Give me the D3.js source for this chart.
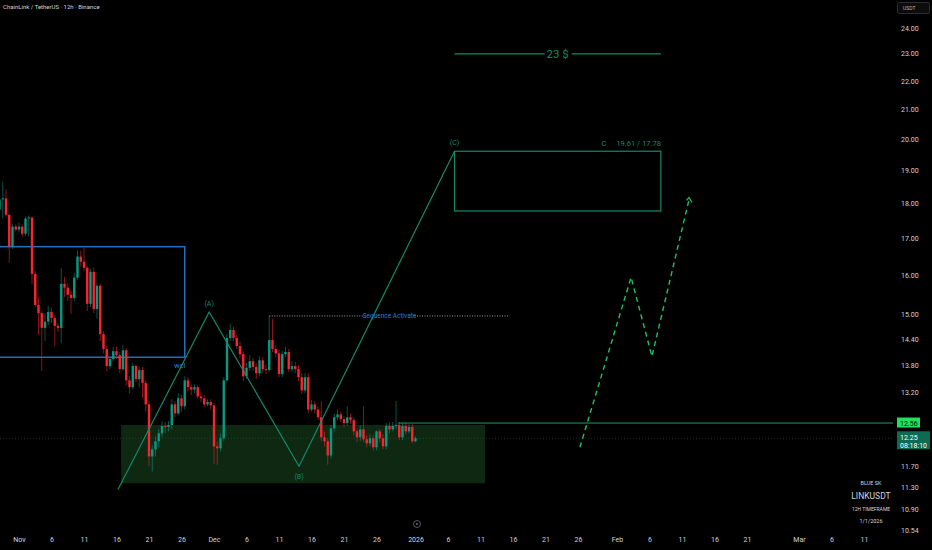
<!DOCTYPE html>
<html><head><meta charset="utf-8">
<script src="https://cdn.jsdelivr.net/npm/d3@7"></script>
<style>html,body{margin:0;background:#000;}svg{display:block;}text{font-family:Roboto,"Noto Sans",sans-serif;}</style>
</head><body><svg id="c" width="932" height="550"></svg>
<script>
// ---- DATA ----
const firstCandle = "2025-10-29T00:00:00Z"; // 12h candles
const candleHours = 12;
const opens = [17.82,18.12,18.15,17.67,16.77,17.33,17.25,17.33,17.13,17.56,
17.59,16.04,15.24,15.04,14.68,14.83,15.07,14.92,14.73,14.68,
15.78,15.68,15.50,15.42,15.94,16.50,16.36,16.20,15.27,16.09,
15.14,15.73,14.53,14.18,13.79,13.95,14.13,14.04,13.72,14.15,
13.47,13.32,13.79,13.50,13.70,13.41,12.95,11.89,12.03,12.19,
12.35,12.50,12.48,12.52,12.95,12.76,13.08,12.91,13.47,13.32,
13.27,13.32,13.12,13.08,12.95,13.00,12.93,12.09,12.05,12.25,
13.47,14.44,14.63,14.44,14.25,14.06,13.56,13.75,13.90,13.77,
13.63,13.92,13.72,13.70,14.39,14.18,14.08,13.61,14.06,14.11,
13.72,13.79,13.72,13.54,13.25,13.54,12.84,12.95,12.84,12.68,
12.27,12.19,11.91,12.45,12.68,12.74,12.64,12.56,12.68,12.62,
12.39,12.27,12.43,12.23,12.15,12.25,12.07,12.39,12.25,12.09,
12.50,12.43,12.50,12.52,12.27,12.50,12.39,12.48,12.19];
const closes = [18.12,18.15,17.67,16.77,17.33,17.25,17.33,17.13,17.56,17.59,
16.04,15.24,15.04,14.68,14.83,15.07,14.92,14.73,14.68,15.78,
15.68,15.50,15.42,15.94,16.50,16.36,16.20,15.27,16.09,15.14,
15.73,14.53,14.18,13.79,13.95,14.13,14.04,13.72,14.15,13.47,
13.32,13.79,13.50,13.70,13.41,12.95,11.89,12.03,12.19,12.35,
12.50,12.48,12.52,12.95,12.76,13.08,12.91,13.47,13.32,13.27,
13.32,13.12,13.08,12.95,13.00,12.93,12.09,12.05,12.25,13.47,
14.44,14.63,14.44,14.25,14.06,13.56,13.75,13.90,13.77,13.63,
13.92,13.72,13.70,14.39,14.18,14.08,13.61,14.06,14.11,13.72,
13.79,13.72,13.54,13.25,13.54,12.84,12.95,12.84,12.68,12.27,
12.19,11.91,12.45,12.68,12.74,12.64,12.56,12.68,12.62,12.39,
12.27,12.43,12.23,12.15,12.25,12.07,12.39,12.25,12.09,12.50,
12.43,12.50,12.52,12.27,12.50,12.39,12.48,12.19,12.25];
const highs = [18.39,18.66,18.42,17.67,17.39,17.39,17.44,17.39,17.62,17.65,
17.62,16.12,15.44,15.09,15.04,15.22,15.17,14.99,14.80,16.20,
15.96,15.81,15.60,16.07,16.66,16.66,16.74,16.25,16.17,16.20,
15.81,15.78,14.60,14.25,14.01,14.23,14.23,14.11,14.27,14.20,
13.56,13.86,13.83,13.77,13.77,13.47,13.02,12.11,12.29,12.43,
12.60,12.58,12.60,13.06,13.02,13.19,13.15,13.56,13.54,13.38,
13.38,13.36,13.21,13.15,13.06,13.06,12.98,12.19,12.35,13.54,
14.53,14.78,14.70,14.51,14.35,14.13,13.86,14.04,13.97,13.86,
14.01,13.99,13.83,14.97,14.90,14.27,14.15,14.13,14.23,14.18,
13.90,13.88,13.81,13.63,13.63,13.63,13.04,13.02,12.91,13.02,
12.39,12.25,12.52,12.76,12.84,12.80,12.70,12.91,12.76,12.68,
12.43,12.52,12.91,12.31,12.33,12.31,12.41,12.43,12.33,12.56,
12.58,12.58,13.02,12.58,12.56,12.56,12.54,12.54,12.29];
const lows = [17.73,17.56,17.62,16.34,16.71,17.19,17.16,17.05,17.07,17.05,
15.78,15.19,14.51,13.68,14.37,14.75,14.80,14.25,14.58,14.32,
15.44,15.34,15.02,15.34,15.89,16.23,16.12,15.09,15.19,15.04,
14.90,14.37,14.08,13.68,13.72,13.90,13.95,13.63,13.68,13.36,
13.19,13.27,13.43,13.32,13.08,12.80,11.70,11.60,11.89,12.07,
12.27,12.35,12.39,12.43,12.68,12.72,12.80,12.84,13.23,13.15,
13.19,13.06,13.00,12.89,12.91,12.84,11.75,11.73,11.99,12.19,
13.43,14.37,14.37,14.18,13.97,13.45,13.50,13.68,13.68,13.50,
13.56,13.63,13.61,13.66,14.11,13.99,13.54,13.54,13.99,13.66,
13.66,13.63,13.45,13.17,13.19,12.76,12.80,12.76,12.62,12.19,
12.09,11.73,11.85,12.39,12.62,12.58,12.47,12.50,12.54,12.31,
12.17,12.19,12.17,12.07,12.09,12.01,12.01,12.17,12.03,12.03,
12.35,12.39,12.43,12.21,12.21,12.33,12.35,12.15,12.17];

const xTickDates = ["2025-11-01","2025-11-06","2025-11-11","2025-11-16","2025-11-21","2025-11-26",
"2025-12-01","2025-12-06","2025-12-11","2025-12-16","2025-12-21","2025-12-26",
"2026-01-01","2026-01-06","2026-01-11","2026-01-16","2026-01-21","2026-01-26",
"2026-02-01","2026-02-06","2026-02-11","2026-02-16","2026-02-21",
"2026-03-01","2026-03-06","2026-03-11"];
const xTickLabels = ["Nov","6","11","16","21","26","Dec","6","11","16","21","26",
"2026","6","11","16","21","26","Feb","6","11","16","21","Mar","6","11"];
const yTicks = [24,23,22,21,20,19,18,17,16,15,14.40,13.80,13.20,11.70,11.30,10.90,10.54];

// annotations (time, price)
const blueBoxTimes = ["2025-10-20T00:00:00Z","2025-11-26T12:00:00Z"];
const blueBoxPrices = [16.77, 13.99];
const zoneTimes = ["2025-11-16T17:00:00Z","2026-01-11T17:00:00Z"];
const zonePrices = [12.52, 11.38];
const waveTimes = ["2025-11-16T05:00:00Z","2025-11-30T06:00:00Z","2025-12-14T02:00:00Z","2026-01-07T00:00:00Z"];
const wavePrices = [11.26, 15.07, 11.70, 19.61];
const waveLabels = ["", "(A)", "(B)", "(C)"];
const targetBoxTimes = ["2026-01-07T00:00:00Z","2026-02-07T18:00:00Z"];
const targetBoxPrices = [19.61, 17.78];
const targetLine = 23;
const projTimes = ["2026-01-26T07:00:00Z","2026-02-03T04:00:00Z","2026-02-06T09:00:00Z","2026-02-12T02:00:00Z"];
const projPrices = [12.07, 15.95, 14.01, 18.12];
const seqTimes = ["2025-12-09T12:00:00Z","2026-01-15T12:00:00Z"];
const seqPrice = 14.97;
const levelStart = "2025-12-29T08:00:00Z";
const levelPrice = 12.56;
const lastPrice = 12.25;
const countdown = "08:18:10";

// ---- CHART ----
const W=932,H=550, plotRight=893;
const svg=d3.select("#c");
svg.append("rect").attr("width",W).attr("height",H).attr("fill","#000");
const defs=svg.append("defs");
defs.append("clipPath").attr("id","clip").append("rect").attr("x",0).attr("y",0).attr("width",plotRight).attr("height",H);

const x=d3.scaleUtc().domain([new Date("2025-11-01T00:00:00Z"),new Date("2026-03-01T00:00:00Z")]).range([19,799]);
const y=d3.scaleLog().domain([10.54,24]).range([530,28]);
const T=s=>new Date(s);

const g=svg.append("g").attr("clip-path","url(#clip)");

// demand zone
g.append("rect").attr("x",x(T(zoneTimes[0]))).attr("y",y(zonePrices[0]))
 .attr("width",x(T(zoneTimes[1]))-x(T(zoneTimes[0]))).attr("height",y(zonePrices[1])-y(zonePrices[0]))
 .attr("fill","#0e2811");

// last price dotted line
g.append("line").attr("x1",0).attr("x2",plotRight).attr("y1",y(lastPrice)).attr("y2",y(lastPrice))
 .attr("stroke","#0e6e55").attr("stroke-opacity",0.5).attr("stroke-width",1).attr("stroke-dasharray","1,2");

// blue box
g.append("rect").attr("x",x(T(blueBoxTimes[0]))).attr("y",y(blueBoxPrices[0]))
 .attr("width",x(T(blueBoxTimes[1]))-x(T(blueBoxTimes[0]))).attr("height",y(blueBoxPrices[1])-y(blueBoxPrices[0]))
 .attr("fill","none").attr("stroke","#1f6fc4").attr("stroke-width",1.5);
g.append("text").attr("x",x(T(blueBoxTimes[1]))-5).attr("y",y(blueBoxPrices[1])+10.5).attr("text-anchor","middle")
 .attr("fill","#2a7fd4").attr("font-size",7.5).text("wcl");

// candles
const t0=new Date(firstCandle).getTime();
const candles=closes.map((c,i)=>({t:new Date(t0+i*candleHours*3600e3),o:opens[i],h:highs[i],l:lows[i],c}));
const up="#089981", dn="#f7252f";
const cg=g.append("g");
cg.selectAll("line.w").data(candles).join("line").attr("class","w")
 .attr("x1",d=>x(d.t)).attr("x2",d=>x(d.t)).attr("y1",d=>y(d.h)).attr("y2",d=>y(d.l))
 .attr("stroke",d=>d.c>=d.o?up:dn).attr("stroke-opacity",0.55).attr("stroke-width",1);
cg.selectAll("rect.b").data(candles).join("rect").attr("class","b")
 .attr("x",d=>x(d.t)-1.2).attr("width",2.4)
 .attr("y",d=>y(Math.max(d.o,d.c))).attr("height",d=>Math.max(1,Math.abs(y(d.o)-y(d.c))))
 .attr("fill",d=>d.c>=d.o?up:dn);

// level line 12.56
g.append("line").attr("x1",x(T(levelStart))).attr("x2",plotRight+4).attr("y1",y(levelPrice)).attr("y2",y(levelPrice))
 .attr("stroke","#1e9e63").attr("stroke-width",1);

// sequence activate dotted line
const sx1=x(T(seqTimes[0])), sx2=x(T(seqTimes[1])), sy=y(seqPrice), smid=(sx1+sx2)/2;
g.append("line").attr("x1",sx1).attr("x2",smid-25).attr("y1",sy).attr("y2",sy).attr("stroke","#9aa0a6").attr("stroke-width",1).attr("stroke-dasharray","1,1.5");
g.append("line").attr("x1",smid+25).attr("x2",sx2).attr("y1",sy).attr("y2",sy).attr("stroke","#9aa0a6").attr("stroke-width",1).attr("stroke-dasharray","1,1.5");
g.append("text").attr("x",smid).attr("y",sy+2.3).attr("text-anchor","middle").attr("fill","#2a7fd4").attr("font-size",6.5).text("Sequence Activate");

// wave line
const teal="#138a6a";
const wave=waveTimes.map((t,i)=>({t:T(t),p:wavePrices[i],l:waveLabels[i]}));
g.append("path").datum(wave).attr("d",d3.line().x(d=>x(d.t)).y(d=>y(d.p))).attr("fill","none").attr("stroke",teal).attr("stroke-width",1.2);
g.selectAll("text.wl").data(wave.slice(1)).join("text").attr("class","wl")
 .attr("x",d=>x(d.t)).attr("y",(d,i)=>i===1?y(d.p)+13:y(d.p)-6).attr("text-anchor","middle")
 .attr("fill",teal).attr("font-size",7).text(d=>d.l);

// target box
const bx1=x(T(targetBoxTimes[0])), bx2=x(T(targetBoxTimes[1]));
g.append("rect").attr("x",bx1).attr("y",y(targetBoxPrices[0])).attr("width",bx2-bx1)
 .attr("height",y(targetBoxPrices[1])-y(targetBoxPrices[0])).attr("fill","none").attr("stroke",teal).attr("stroke-width",1.2);
g.append("text").attr("x",bx2).attr("y",y(targetBoxPrices[0])-5).attr("text-anchor","end").attr("fill",teal).attr("font-size",7.5)
 .text(targetBoxPrices[0].toFixed(2)+" / "+targetBoxPrices[1].toFixed(2));
g.append("text").attr("x",bx2-57).attr("y",y(targetBoxPrices[0])-5).attr("text-anchor","middle").attr("fill",teal).attr("font-size",7.5).text("C");

// 23 $ line
const ty=y(targetLine), tmid=(bx1+bx2)/2;
g.append("line").attr("x1",bx1).attr("x2",tmid-13).attr("y1",ty).attr("y2",ty).attr("stroke",teal).attr("stroke-width",1.2);
g.append("line").attr("x1",tmid+14).attr("x2",bx2).attr("y1",ty).attr("y2",ty).attr("stroke",teal).attr("stroke-width",1.2);
g.append("text").attr("x",tmid).attr("y",ty+4).attr("text-anchor","middle").attr("fill",teal).attr("font-size",11.5).text(targetLine+" $");

// projection dashed
const proj=projTimes.map((t,i)=>({t:T(t),p:projPrices[i]}));
const pg="#1fc25a";
g.append("path").datum(proj).attr("d",d3.line().x(d=>x(d.t)).y(d=>y(d.p))).attr("fill","none").attr("stroke",pg).attr("stroke-width",1.4).attr("stroke-dasharray","5,4");
const tip=proj[proj.length-1], tx=x(tip.t), tyy=y(tip.p);
g.append("path").attr("d",`M${tx-2.5},${tyy+1} L${tx},${tyy-2} L${tx+3},${tyy+3}`).attr("fill","none").attr("stroke",pg).attr("stroke-width",1.2);

// x axis
const xAxis=d3.axisBottom(x).tickValues(xTickDates.map(d=>new Date(d+"T00:00:00Z"))).tickSize(0)
 .tickFormat((d,i)=>xTickLabels[i]);
const xa=svg.append("g").attr("transform","translate(0,534)").call(xAxis);
xa.select(".domain").remove();
xa.selectAll("text").attr("fill","#d1d4dc").attr("font-size",7).attr("font-family","Roboto, sans-serif");

// y axis labels
svg.selectAll("text.yt").data(yTicks).join("text").attr("class","yt")
 .attr("x",901).attr("y",d=>y(d)+2.5).attr("fill","#d1d4dc").attr("font-size",7).text(d=>d.toFixed(2));

// USDT box
svg.append("rect").attr("x",897.5).attr("y",2.5).attr("width",32).attr("height",11).attr("rx",2).attr("fill","#0c0c0c").attr("stroke","#2a2e39");
svg.append("text").attr("x",903).attr("y",10).attr("fill","#b2b5be").attr("font-size",5).text("USDT");

// price labels
svg.append("rect").attr("x",897).attr("y",y(levelPrice)-5.5).attr("width",23).attr("height",10).attr("fill","#22e05c");
svg.append("text").attr("x",900).attr("y",y(levelPrice)+2.5).attr("fill","#000").attr("font-size",7).text(levelPrice.toFixed(2));
svg.append("rect").attr("x",897).attr("y",y(lastPrice)-7).attr("width",33).attr("height",18).attr("fill","#0c6b53");
svg.append("text").attr("x",900).attr("y",y(lastPrice)+1.5).attr("fill","#fff").attr("font-size",7).text(lastPrice.toFixed(2));
svg.append("text").attr("x",900).attr("y",y(lastPrice)+9.5).attr("fill","#fff").attr("font-size",7).text(countdown);

// title
svg.append("text").attr("x",3).attr("y",9).attr("fill","#d1d4dc").attr("font-size",6).text("ChainLink / TetherUS · 12h · Binance");

// signature
const sig=[["BLUE SK",485,5.5],["LINKUSDT",499,8.5],["12H TIMEFRAME",511,5],["1/1/2026",523,5.5]];
svg.selectAll("text.sig").data(sig).join("text").attr("class","sig").attr("x",871).attr("y",d=>d[1]).attr("text-anchor","middle")
 .attr("fill","#d1d4dc").attr("font-size",d=>d[2]).text(d=>d[0]);

// TV logo
svg.append("circle").attr("cx",417).attr("cy",524).attr("r",3.5).attr("fill","none").attr("stroke","#6a6d78").attr("stroke-width",0.8);
svg.append("circle").attr("cx",417).attr("cy",524).attr("r",1).attr("fill","#6a6d78");
</script></body></html>
